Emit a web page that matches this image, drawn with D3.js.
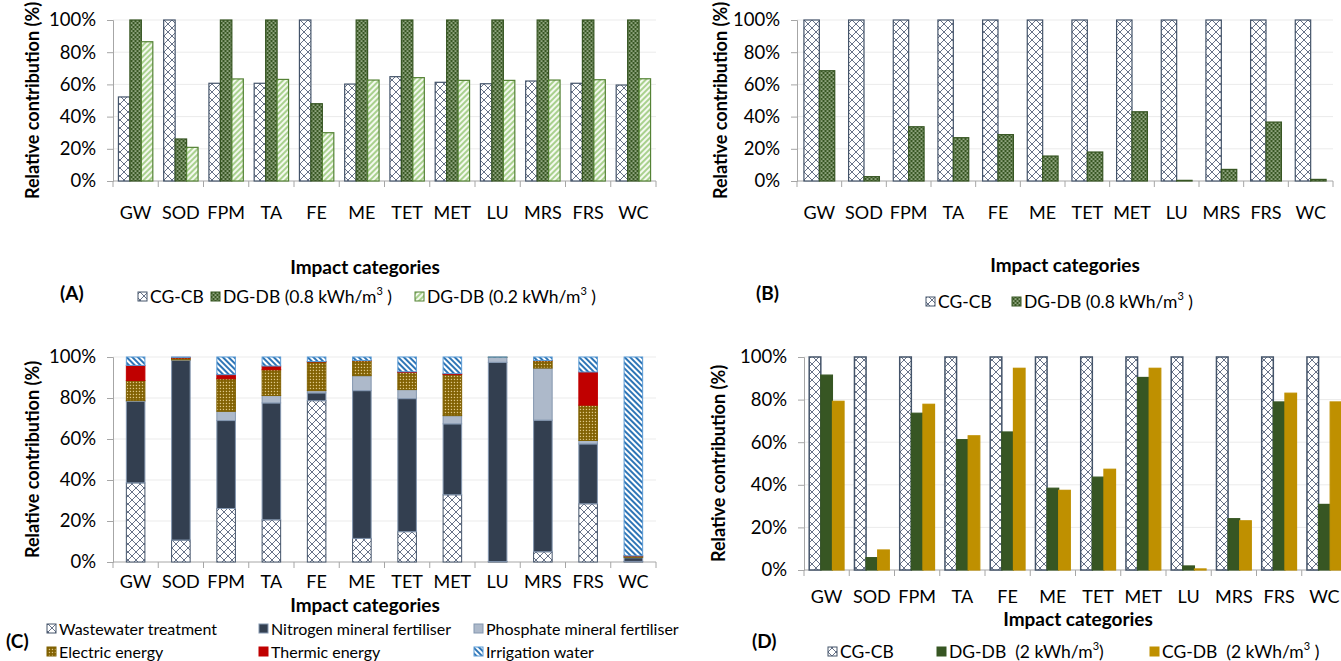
<!DOCTYPE html>
<html>
<head>
<meta charset="utf-8">
<script src="https://cdn.jsdelivr.net/npm/d3@7"></script>
<style>
  body { margin: 0; background: #fff; }
</style>
</head>
<body>
<div id="chart"></div>
<script>
// Relative contribution of impact categories, four panels

const categories = ["GW", "SOD", "FPM", "TA", "FE", "ME", "TET", "MET", "LU", "MRS", "FRS", "WC"];
const yTicks = [0, 20, 40, 60, 80, 100];

// (A)
const aCGCB   = [52.2, 100, 60.7, 60.7, 100, 60.2, 64.8, 61.3, 60.4, 62.1, 60.7, 59.6];
const aDGDB08 = [100, 26.1, 100, 100, 48.0, 100, 100, 100, 100, 100, 100, 100];
const aDGDB02 = [86.5, 20.9, 63.4, 63.1, 30.0, 62.7, 64.2, 62.5, 62.5, 62.7, 62.9, 63.5];

// (B)
const bCGCB   = [100, 100, 100, 100, 100, 100, 100, 100, 100, 100, 100, 100];
const bDGDB08 = [68.5, 2.7, 33.7, 26.9, 28.8, 15.5, 18.0, 43.0, 0.4, 7.2, 36.6, 1.0];

// (C) stacked contributions
const cWastewater = [38.6, 10.7, 26.1, 20.6, 78.7, 11.5, 14.8, 32.8, 0.2, 5.0, 28.4, 0.3];
const cNitrogen   = [39.8, 87.7, 42.9, 57.0, 3.8, 72.1, 64.9, 34.6, 97.2, 64.2, 29.2, 1.8];
const cPhosphate  = [0.3, 0.2, 4.5, 3.6, 1.1, 7.3, 4.4, 4.0, 2.4, 25.4, 1.7, 0.2];
const cElectric   = [9.8, 0.9, 15.9, 12.6, 14.0, 7.3, 8.4, 20.0, 0.1, 3.6, 17.2, 0.6];
const cThermic    = [7.4, 0.3, 2.0, 1.8, 0.2, 0.1, 0.3, 0.5, 0.0, 0.1, 16.2, 0.1];
const cIrrigation = [4.1, 0.2, 8.6, 4.4, 2.2, 1.7, 7.2, 8.1, 0.1, 1.7, 7.3, 97.0];

// (D)
const dCGCB  = [100, 100, 100, 100, 100, 100, 100, 100, 100, 100, 100, 100];
const dDGDB2 = [91.5, 5.8, 73.6, 61.2, 64.8, 38.4, 43.6, 90.4, 1.9, 24.1, 78.9, 30.8];
const dCGDB2 = [79.2, 9.4, 77.8, 63.0, 94.7, 37.4, 47.3, 94.7, 0.5, 23.1, 83.0, 78.9];

const FONT = "Lato, 'Open Sans', sans-serif";
const W = 1341, H = 661;

const svg = d3.select("#chart").append("svg")
    .attr("width", W)
    .attr("height", H)
    .style("display", "block");

// fill patterns
const defs = svg.append("defs");

let p = defs.append("pattern").attr("id", "cross")
    .attr("patternUnits", "userSpaceOnUse").attr("width", 8).attr("height", 8);
p.append("rect").attr("width", 8).attr("height", 8).attr("fill", "#fff");
p.append("path").attr("d", "M0,0L8,8M8,0L0,8").attr("stroke", "#56627a").attr("stroke-width", 0.9);

p = defs.append("pattern").attr("id", "greenDots")
    .attr("patternUnits", "userSpaceOnUse").attr("width", 4).attr("height", 4);
p.append("rect").attr("width", 4).attr("height", 4).attr("fill", "#385723");
p.append("rect").attr("x", 0.5).attr("y", 0.5).attr("width", 2).attr("height", 1.1).attr("fill", "#c9d9bd");
p.append("rect").attr("x", 2.5).attr("y", 2.5).attr("width", 1.5).attr("height", 1.1).attr("fill", "#c9d9bd");
p.append("rect").attr("x", 0).attr("y", 2.5).attr("width", 0.5).attr("height", 1.1).attr("fill", "#c9d9bd");

p = defs.append("pattern").attr("id", "lightStripe")
    .attr("patternUnits", "userSpaceOnUse").attr("width", 4).attr("height", 4)
    .attr("patternTransform", "rotate(45)");
p.append("rect").attr("width", 4).attr("height", 4).attr("fill", "#f4f9ef");
p.append("rect").attr("width", 2).attr("height", 4).attr("fill", "#a9d18e");

p = defs.append("pattern").attr("id", "goldDots")
    .attr("patternUnits", "userSpaceOnUse").attr("width", 3).attr("height", 3);
p.append("rect").attr("width", 3).attr("height", 3).attr("fill", "#806000");
p.append("rect").attr("x", 0.8).attr("y", 0.8).attr("width", 1.3).attr("height", 1.3).attr("fill", "#e0c98a");

p = defs.append("pattern").attr("id", "blueStripe")
    .attr("patternUnits", "userSpaceOnUse").attr("width", 4).attr("height", 4)
    .attr("patternTransform", "rotate(-45)");
p.append("rect").attr("width", 4).attr("height", 4).attr("fill", "#fff");
p.append("rect").attr("width", 2).attr("height", 4).attr("fill", "#2e75b6");

// axes, grid, labels shared by every panel
function frame(opt) {
    const g = svg.append("g");
    const x = d3.scaleBand().domain(categories).range([opt.x0, opt.x1]);
    const y = d3.scaleLinear().domain([0, 100]).range([opt.yBot, opt.yTop]);

    g.selectAll(".grid").data(yTicks.filter(d => d > 0)).enter()
        .append("line")
        .attr("x1", opt.x0).attr("x2", opt.x1)
        .attr("y1", d => y(d)).attr("y2", d => y(d))
        .attr("stroke", "#ebebeb");

    const ya = g.append("g")
        .attr("transform", "translate(" + opt.x0 + ",0)")
        .call(d3.axisLeft(y).tickValues(yTicks).tickFormat(d => d + "%").tickSize(6).tickPadding(11));
    ya.select(".domain").attr("stroke", "#a6a6a6");
    ya.selectAll(".tick line").attr("stroke", "#a6a6a6");
    ya.selectAll(".tick text")
        .attr("font-family", FONT).attr("font-size", 18.5).attr("fill", "#000");

    // y title
    g.append("text")
        .attr("transform", "translate(" + opt.titleX + "," + ((opt.yTop + opt.yBot) / 2) + ") rotate(-90)")
        .attr("text-anchor", "middle")
        .attr("dominant-baseline", "central")
        .attr("font-family", FONT).attr("font-weight", "bold").attr("font-size", 18)
        .text("Relative contribution (%)");

    // x baseline with category separators
    g.append("line")
        .attr("x1", opt.x0).attr("x2", opt.x1)
        .attr("y1", opt.yBot).attr("y2", opt.yBot)
        .attr("stroke", "#a6a6a6");
    const bounds = categories.map(c => x(c)).concat([opt.x1]);
    g.selectAll(".sep").data(bounds).enter().append("line")
        .attr("x1", d => d).attr("x2", d => d)
        .attr("y1", opt.yBot).attr("y2", opt.yBot + 6)
        .attr("stroke", "#a6a6a6");

    g.selectAll(".cat").data(categories).enter().append("text")
        .attr("x", d => x(d) + x.bandwidth() / 2)
        .attr("y", opt.labelY)
        .attr("text-anchor", "middle")
        .attr("font-family", FONT).attr("font-size", 18)
        .text(d => d);

    g.append("text")
        .attr("x", opt.xTitleX).attr("y", opt.xTitleY)
        .attr("text-anchor", "middle")
        .attr("font-family", FONT).attr("font-weight", "bold").attr("font-size", 19)
        .text("Impact categories");

    g.append("text")
        .attr("x", opt.tagX).attr("y", opt.tagY)
        .attr("font-family", FONT).attr("font-weight", "bold").attr("font-size", 19)
        .text(opt.tag);

    return {g, x, y};
}

function grouped(opt, series) {
    const f = frame(opt);
    const gw = f.x.bandwidth() * opt.groupFrac;
    const xs = d3.scaleBand().domain(d3.range(series.length)).range([0, gw]);
    const off = (f.x.bandwidth() - gw) / 2;

    series.forEach(function(s, si) {
        f.g.append("g").selectAll("rect").data(s.values).enter()
            .append("rect")
            .attr("x", (d, i) => f.x(categories[i]) + off + xs(si))
            .attr("y", d => f.y(d))
            .attr("width", xs.bandwidth())
            .attr("height", d => f.y(0) - f.y(d))
            .attr("fill", s.fill)
            .attr("stroke", s.stroke)
            .attr("stroke-width", s.strokeWidth || 1.2);
    });
    return f;
}

function legend(items, y, size) {
    items.forEach(function(it) {
        svg.append("rect")
            .attr("x", it.x).attr("y", y - 5)
            .attr("width", 9).attr("height", 9)
            .attr("fill", it.fill)
            .attr("stroke", it.stroke).attr("stroke-width", 1);
        const t = svg.append("text")
            .attr("x", it.x + 12).attr("y", y + 6)
            .attr("font-family", FONT).attr("font-size", size || 17.5);
        t.append("tspan").text(it.label);
        if (it.sup) {
            t.append("tspan").attr("dy", -8).attr("font-size", 11).text("3");
            t.append("tspan").attr("dy", 8).text(it.tail);
        }
    });
}

// (A)
grouped({x0: 113, x1: 656, yTop: 20, yBot: 181, titleX: 32, labelY: 219,
         xTitleX: 365, xTitleY: 274, tag: "(A)", tagX: 60, tagY: 300, groupFrac: 0.76},
    [{values: aCGCB, fill: "url(#cross)", stroke: "#44546a"},
     {values: aDGDB08, fill: "url(#greenDots)", stroke: "#375623"},
     {values: aDGDB02, fill: "url(#lightStripe)", stroke: "#548235"}]);
legend([
    {x: 138, fill: "url(#cross)", stroke: "#44546a", label: "CG-CB"},
    {x: 211, fill: "url(#greenDots)", stroke: "#375623", label: "DG-DB (0.8 kWh/m", sup: true, tail: "\u00a0)"},
    {x: 415, fill: "url(#lightStripe)", stroke: "#548235", label: "DG-DB (0.2 kWh/m", sup: true, tail: "\u00a0)"}
], 297);

// (B)
grouped({x0: 797, x1: 1333, yTop: 20, yBot: 181, titleX: 720, labelY: 219,
         xTitleX: 1065, xTitleY: 272, tag: "(B)", tagX: 756, tagY: 300, groupFrac: 0.69},
    [{values: bCGCB, fill: "url(#cross)", stroke: "#44546a"},
     {values: bDGDB08, fill: "url(#greenDots)", stroke: "#375623"}]);
legend([
    {x: 926, fill: "url(#cross)", stroke: "#44546a", label: "CG-CB"},
    {x: 1012, fill: "url(#greenDots)", stroke: "#375623", label: "DG-DB (0.8 kWh/m", sup: true, tail: "\u00a0)"}
], 302);

// (C) stacked
const fc = frame({x0: 113, x1: 656, yTop: 357, yBot: 562, titleX: 32, labelY: 588,
                  xTitleX: 365, xTitleY: 612, tag: "(C)", tagX: 6, tagY: 648});
const sources = [
    {key: "ww", label: "Wastewater treatment", values: cWastewater, fill: "url(#cross)", stroke: "#44546a"},
    {key: "n", label: "Nitrogen mineral fertiliser", values: cNitrogen, fill: "#333f50", stroke: "#8497b0"},
    {key: "p", label: "Phosphate mineral fertiliser", values: cPhosphate, fill: "#adb9ca", stroke: "#8497b0"},
    {key: "el", label: "Electric energy", values: cElectric, fill: "url(#goldDots)", stroke: "#7f6000"},
    {key: "th", label: "Thermic energy", values: cThermic, fill: "#c00000", stroke: "#c00000"},
    {key: "ir", label: "Irrigation water", values: cIrrigation, fill: "url(#blueStripe)", stroke: "#5b9bd5"}
];
const table = categories.map(function(c, i) {
    const row = {cat: c};
    sources.forEach(s => row[s.key] = s.values[i]);
    return row;
});
const stacked = d3.stack().keys(sources.map(s => s.key))(table);
const barW = fc.x.bandwidth() * 0.41;
fc.g.selectAll(".layer").data(stacked).enter().append("g")
    .attr("fill", (d, i) => sources[i].fill)
    .attr("stroke", (d, i) => sources[i].stroke)
    .selectAll("rect").data(d => d).enter().append("rect")
    .attr("x", d => fc.x(d.data.cat) + (fc.x.bandwidth() - barW) / 2)
    .attr("y", d => fc.y(d[1]))
    .attr("width", barW)
    .attr("height", d => fc.y(d[0]) - fc.y(d[1]))
    .attr("stroke-width", 1);

legend([
    {x: 47, fill: sources[0].fill, stroke: sources[0].stroke, label: sources[0].label},
    {x: 259, fill: sources[1].fill, stroke: sources[1].stroke, label: sources[1].label},
    {x: 474, fill: sources[2].fill, stroke: sources[2].stroke, label: sources[2].label}
], 629, 16);
legend([
    {x: 47, fill: sources[3].fill, stroke: sources[3].stroke, label: sources[3].label},
    {x: 259, fill: sources[4].fill, stroke: sources[4].stroke, label: sources[4].label},
    {x: 474, fill: sources[5].fill, stroke: sources[5].stroke, label: sources[5].label}
], 652, 16);

// (D)
grouped({x0: 804, x1: 1347, yTop: 357, yBot: 570, titleX: 718, labelY: 603,
         xTitleX: 1078, xTitleY: 626, tag: "(D)", tagX: 752, tagY: 648, groupFrac: 0.77},
    [{values: dCGCB, fill: "url(#cross)", stroke: "#44546a", strokeWidth: 1.5},
     {values: dDGDB2, fill: "#375623", stroke: "#375623"},
     {values: dCGDB2, fill: "#bf9000", stroke: "#bf9000"}]);
legend([
    {x: 828, fill: "url(#cross)", stroke: "#44546a", label: "CG-CB"},
    {x: 937, fill: "#375623", stroke: "#375623", label: "DG-DB\u00a0 (2 kWh/m", sup: true, tail: ")"},
    {x: 1150, fill: "#bf9000", stroke: "#bf9000", label: "CG-DB\u00a0 (2 kWh/m", sup: true, tail: "\u00a0)"}
], 652);
</script>
</body>
</html>
